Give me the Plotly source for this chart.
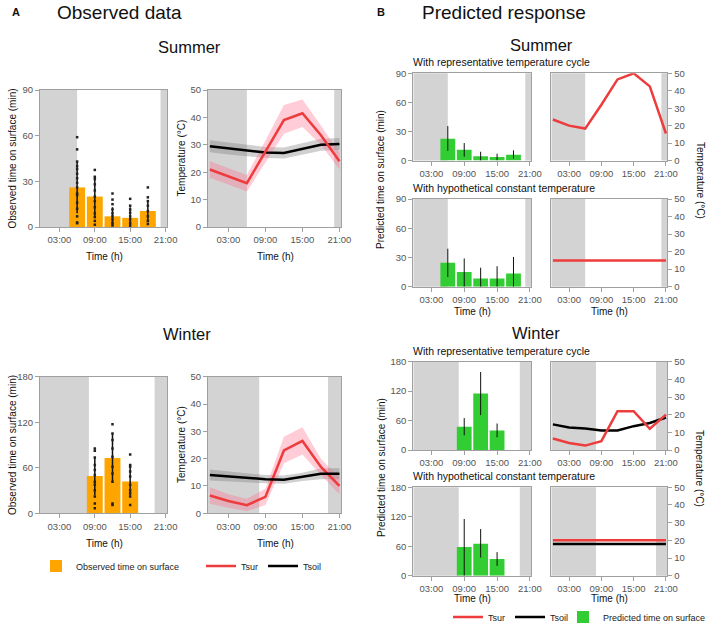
import plotly.graph_objects as go

W, H = 708, 626

# ---------------- data ----------------
# panel A: observed time on surface (min), mean, sd and individual observations
obs_hours_summer = [6, 9, 12, 15, 18]
obs_mean_summer = [26, 20, 7, 6, 10.5]
obs_sd_summer = [17, 13, 6, 7, 6.5]
obs_points_summer = [
    [59, 51, 43, 40, 38, 35, 32, 29, 26, 22, 21, 16, 12, 7, 3, 2.5],
    [37.5, 33, 31.5, 28, 24, 20, 17, 13, 9, 6.5, 4, 1.5],
    [22, 18, 15, 11.5, 9, 7, 5, 2.7, 1],
    [18.5, 14, 11.5, 9.3, 7, 5, 2.7, 1],
    [26, 19.5, 17, 14, 10.5, 7, 4, 2],
]
obs_hours_winter = [9, 12, 15]
obs_mean_winter = [49, 73, 42]
obs_sd_winter = [25, 32, 19]
obs_points_winter = [
    [85.5, 82.5, 73.5, 63.5, 57, 50.5, 41.5, 37.5, 30.5, 22, 13, 6.5],
    [117.5, 105, 96.5, 85.5, 74.5, 61.5, 52.5, 41.5, 13, 11],
    [77.5, 63.5, 61.5, 55, 48.5, 37.5, 30.5, 26.5, 22, 11],
]

# panel A: observed temperatures (deg C) with bands
temp_hours = [0, 3, 6, 9, 12, 15, 18, 21]
tsur_summer = [21, 18.5, 16, 27.5, 39, 41.5, 33.5, 24]
tsur_summer_lo = [18, 15.5, 13, 23.5, 34, 36.5, 30, 21]
tsur_summer_hi = [24, 21.5, 19, 31.5, 44.5, 46.5, 37, 27]
tsoil_summer = [29.5, 28.7, 28, 27.2, 27, 28.5, 30, 30.3]
tsoil_summer_lo = [27.3, 26.5, 25.8, 25.2, 25, 26.5, 27.8, 28.1]
tsoil_summer_hi = [31.7, 30.9, 30.2, 29.2, 29, 30.5, 32.2, 32.5]
tsur_winter = [6.5, 4.5, 3, 6, 23, 26.5, 17, 10]
tsur_winter_lo = [3.5, 2, 0.8, 3, 18.3, 21.5, 14, 7]
tsur_winter_hi = [9.5, 7, 5.3, 9, 28, 31.5, 20, 13]
tsoil_winter = [14, 13.5, 13, 12.5, 12.3, 13.3, 14.5, 14.5]
tsoil_winter_lo = [12, 11.7, 11.3, 11, 10.8, 11.8, 12.5, 12.5]
tsoil_winter_hi = [16, 15.3, 14.7, 14, 13.8, 14.8, 16.5, 16.5]

# panel B: predicted time on surface (min) with intervals
pred_hours_summer = [6, 9, 12, 15, 18]
pred_summer_cycle = [22.5, 11, 4.5, 3.5, 6]
pred_summer_cycle_lo = [10, 4, 0, 0, 2]
pred_summer_cycle_hi = [35.5, 18, 9, 7, 10.5]
pred_summer_const = [24.5, 15, 8.5, 8.5, 13.5]
pred_summer_const_lo = [10, 0, 0, 0, 0]
pred_summer_const_hi = [39, 29, 19.5, 21, 30.5]
pred_hours_winter = [9, 12, 15]
pred_winter_cycle = [47.5, 115, 40]
pred_winter_cycle_lo = [30, 71, 26]
pred_winter_cycle_hi = [65, 159, 54]
pred_winter_const = [58.5, 65, 34]
pred_winter_const_lo = [0, 37, 20]
pred_winter_const_hi = [115.5, 95, 48]

# panel B: temperature scenarios (deg C)
scen_tsur_summer_cycle = [23.5, 20, 18.3, 32, 46.5, 50, 42.5, 15.5]
scen_tsur_summer_const = [15, 15, 15, 15, 15, 15, 15, 15]
scen_tsur_winter_cycle = [6.5, 4, 2.5, 5, 22, 22, 12, 20]
scen_tsoil_winter_cycle = [14.5, 12.8, 12.2, 11, 11, 13.5, 15.3, 18.4]
scen_tsur_winter_const = [20, 20, 20, 20, 20, 20, 20, 20]
scen_tsoil_winter_const = [18, 18, 18, 18, 18, 18, 18, 18]

# night (sunrise, sunset) in hours
night_summer = (6, 20.15)
night_winter = (8, 19.15)

hour_ticks = [3, 9, 15, 21]
hour_labels = ["03:00", "09:00", "15:00", "21:00"]
x_range = [-0.3, 21.25]

FONT = "Liberation Sans, Arial, sans-serif"
ORANGE = "#FFA500"
GREEN = "#32CD32"
RED = "#EE3B3B"
NIGHT = "#D3D3D3"
AXIS = "#A0A0A0"
TICK = "#555555"


def px(x):
    return x / W


def py(y):
    return 1 - y / H


def dom_x(left, right):
    return [px(left), px(right)]


def dom_y(top, bottom):
    return [py(bottom), py(top)]


fig = go.Figure()


def axes_of(n):
    return ("x", "y") if n == 1 else ("x%d" % n, "y%d" % n)


def add_panel(n, xdom, ydom, yrange, yticks, night, right=False):
    xa, ya = axes_of(n)
    common = dict(showline=True, linecolor=AXIS, linewidth=1, mirror=True,
                  ticks="outside", ticklen=4, tickcolor=AXIS,
                  tickfont=dict(size=9.5, color=TICK), showgrid=False,
                  zeroline=False, fixedrange=True)
    fig.update_layout({
        xa.replace("x", "xaxis"): dict(domain=xdom, range=x_range,
                                       tickvals=hour_ticks, ticktext=hour_labels,
                                       anchor=ya, **common),
        ya.replace("y", "yaxis"): dict(domain=ydom, range=yrange, tickvals=yticks,
                                       anchor=xa, side="right" if right else "left",
                                       **common),
    })
    for x0, x1 in [(x_range[0], night[0]), (night[1], x_range[1])]:
        fig.add_shape(type="rect", xref=xa, yref=ya + " domain",
                      x0=x0, x1=x1, y0=0, y1=1, fillcolor=NIGHT,
                      line=dict(width=0), layer="below")


def add_observed(n, hours, mean, sd, points, show):
    xa, ya = axes_of(n)
    fig.add_trace(go.Bar(x=hours, y=mean, width=2.7, marker_color=ORANGE,
                         marker_line=dict(width=0),
                         error_y=dict(type="data", array=sd, thickness=1.5,
                                      width=0, color="#111"),
                         name="Observed time on surface", showlegend=show,
                         legend="legend", xaxis=xa, yaxis=ya))
    for h, pts in zip(hours, points):
        fig.add_trace(go.Scatter(x=[h] * len(pts), y=pts, mode="markers",
                                 marker=dict(symbol="square", size=2.5, color="#222"),
                                 showlegend=False, xaxis=xa, yaxis=ya))


def add_band(n, lo, hi, color):
    xa, ya = axes_of(n)
    fig.add_trace(go.Scatter(x=temp_hours + temp_hours[::-1], y=hi + lo[::-1],
                             fill="toself", fillcolor=color, mode="lines",
                             line=dict(width=0), showlegend=False,
                             hoverinfo="skip", xaxis=xa, yaxis=ya))


def add_line(n, y, color, name, legend, show, rank):
    xa, ya = axes_of(n)
    fig.add_trace(go.Scatter(x=temp_hours, y=y, mode="lines",
                             line=dict(color=color, width=2.5), name=name,
                             showlegend=show, legend=legend, legendrank=rank,
                             xaxis=xa, yaxis=ya))


def add_predicted(n, hours, mean, lo, hi, show):
    xa, ya = axes_of(n)
    fig.add_trace(go.Bar(x=hours, y=mean, width=2.7, marker_color=GREEN,
                         marker_line=dict(width=0),
                         error_y=dict(type="data", symmetric=False,
                                      array=[h - m for h, m in zip(hi, mean)],
                                      arrayminus=[m - l for m, l in zip(mean, lo)],
                                      thickness=1, width=0, color="#111"),
                         name="Predicted time on surface", showlegend=show,
                         legend="legend4", xaxis=xa, yaxis=ya))


# ---------------- panel A ----------------
xa_l, xa_r = dom_x(40, 167), dom_x(208, 341)
ya_s, ya_w = dom_y(90, 227), dom_y(376.7, 513.3)

add_panel(1, xa_l, ya_s, [0, 90], [0, 30, 60, 90], night_summer)
add_observed(1, obs_hours_summer, obs_mean_summer, obs_sd_summer,
             obs_points_summer, True)

add_panel(2, xa_r, ya_s, [0, 50], [0, 10, 20, 30, 40, 50], night_summer)
add_band(2, tsoil_summer_lo, tsoil_summer_hi, "rgba(120,120,120,0.35)")
add_band(2, tsur_summer_lo, tsur_summer_hi, "rgba(255,110,140,0.35)")
add_line(2, tsoil_summer, "black", "Tsoil", "legend2", False, 2)
add_line(2, tsur_summer, RED, "Tsur", "legend2", False, 1)

add_panel(3, xa_l, ya_w, [0, 180], [0, 60, 120, 180], night_winter)
add_observed(3, obs_hours_winter, obs_mean_winter, obs_sd_winter,
             obs_points_winter, False)

add_panel(4, xa_r, ya_w, [0, 50], [0, 10, 20, 30, 40, 50], night_winter)
add_band(4, tsoil_winter_lo, tsoil_winter_hi, "rgba(120,120,120,0.35)")
add_band(4, tsur_winter_lo, tsur_winter_hi, "rgba(255,110,140,0.35)")
add_line(4, tsur_winter, RED, "Tsur", "legend2", True, 1)
add_line(4, tsoil_winter, "black", "Tsoil", "legend2", True, 2)

# ---------------- panel B ----------------
xb_l, xb_r = dom_x(413.3, 531.3), dom_x(551.3, 667.3)
temp_ticks = [0, 10, 20, 30, 40, 50]

add_panel(5, xb_l, dom_y(73.3, 160.5), [0, 90], [0, 30, 60, 90], night_summer)
add_predicted(5, pred_hours_summer, pred_summer_cycle, pred_summer_cycle_lo,
              pred_summer_cycle_hi, False)
add_panel(6, xb_r, dom_y(73.3, 160.5), [0, 50], temp_ticks, night_summer, right=True)
add_line(6, scen_tsur_summer_cycle, RED, "Tsur", "legend3", False, 1)

add_panel(7, xb_l, dom_y(199, 286.7), [0, 90], [0, 30, 60, 90], night_summer)
add_predicted(7, pred_hours_summer, pred_summer_const, pred_summer_const_lo,
              pred_summer_const_hi, False)
add_panel(8, xb_r, dom_y(199, 286.7), [0, 50], temp_ticks, night_summer, right=True)
add_line(8, scen_tsur_summer_const, RED, "Tsur", "legend3", False, 1)

add_panel(9, xb_l, dom_y(361.7, 450), [0, 180], [0, 60, 120, 180], night_winter)
add_predicted(9, pred_hours_winter, pred_winter_cycle, pred_winter_cycle_lo,
              pred_winter_cycle_hi, False)
add_panel(10, xb_r, dom_y(361.7, 450), [0, 50], temp_ticks, night_winter, right=True)
add_line(10, scen_tsoil_winter_cycle, "black", "Tsoil", "legend3", False, 2)
add_line(10, scen_tsur_winter_cycle, RED, "Tsur", "legend3", False, 1)

add_panel(11, xb_l, dom_y(487.3, 575.7), [0, 180], [0, 60, 120, 180], night_winter)
add_predicted(11, pred_hours_winter, pred_winter_const, pred_winter_const_lo,
              pred_winter_const_hi, True)
add_panel(12, xb_r, dom_y(487.3, 575.7), [0, 50], temp_ticks, night_winter, right=True)
add_line(12, scen_tsur_winter_const, RED, "Tsur", "legend3", True, 1)
add_line(12, scen_tsoil_winter_const, "black", "Tsoil", "legend3", True, 2)


# ---------------- text ----------------
def note(text, x, y, size, xanchor="center", angle=0, bold=False, color="#111"):
    fig.add_annotation(text="<b>%s</b>" % text if bold else text,
                       x=px(x), y=py(y), xref="paper", yref="paper",
                       xanchor=xanchor, yanchor="middle", textangle=angle,
                       showarrow=False, font=dict(size=size, color=color))


note("A", 10, 12, 11, "left", bold=True)
note("Observed data", 55, 12, 19, "left")
note("B", 375, 12, 11, "left", bold=True)
note("Predicted response", 420, 12, 19, "left")
note("Summer", 189, 47, 16.5)
note("Winter", 187, 334, 16.5)
note("Summer", 541, 45, 16.5)
note("Winter", 536, 333, 16.5)
note("With representative temperature cycle", 411, 62, 10.5, "left")
note("With hypothetical constant temperature", 411, 188, 10.5, "left")
note("With representative temperature cycle", 411, 351, 10.5, "left")
note("With hypothetical constant temperature", 411, 476, 10.5, "left")

# axis titles
for y in (256, 543):
    note("Time (h)", 104, y, 10)
    note("Time (h)", 275, y, 10)
note("Time (h)", 472, 311, 10)
note("Time (h)", 609, 311, 10)
note("Time (h)", 472, 598, 10)
note("Time (h)", 609, 598, 10)
note("Observed time on surface (min)", 12, 158.5, 10, angle=-90)
note("Observed time on surface (min)", 12, 445, 10, angle=-90)
note("Temperature (°C)", 181, 158.5, 10, angle=-90)
note("Temperature (°C)", 181, 445, 10, angle=-90)
note("Predicted time on surface (min)", 381, 180, 10, angle=-90)
note("Predicted time on surface (min)", 381, 468, 10, angle=-90)
note("Temperature (°C)", 700, 180, 10, angle=90)
note("Temperature (°C)", 700, 468, 10, angle=90)

legend_style = dict(orientation="h", yanchor="middle", xanchor="left",
                    font=dict(size=9, color="#222"), bgcolor="rgba(0,0,0,0)",
                    itemclick=False, itemdoubleclick=False)

fig.update_layout(
    width=W, height=H,
    margin=dict(l=0, r=0, t=0, b=0, autoexpand=False),
    template="none",
    paper_bgcolor="white", plot_bgcolor="white",
    font=dict(family=FONT, size=10, color="#222"),
    legend=dict(x=px(36), y=py(566), **legend_style),
    legend2=dict(x=px(201), y=py(566), **legend_style),
    legend3=dict(x=px(448), y=py(617), **legend_style),
    legend4=dict(x=px(563), y=py(617), **legend_style),
)

# the page is photographed at exactly the figure size: drop the body margin
fig.write_html("out.html",
               config={"displayModeBar": False},
               post_script="document.body.style.margin='0';"
                           "document.body.style.overflow='hidden';")
